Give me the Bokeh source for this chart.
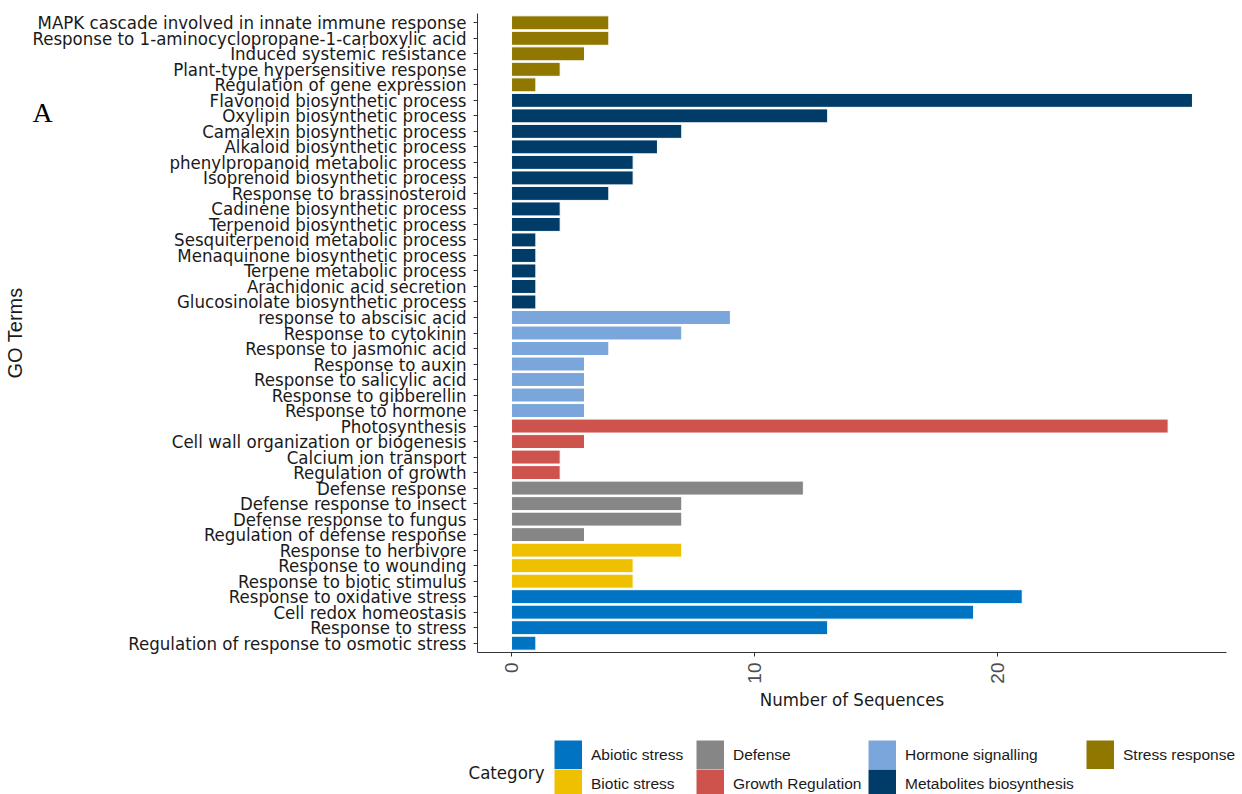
import math
from bokeh.plotting import figure
from bokeh.models import (FactorRange, Range1d, Legend, LegendItem, Label, FixedTicker,
                          GridBox)
from bokeh.embed import file_html
from bokeh.resources import INLINE

# GO terms, top to bottom as in the chart
terms = [
    "MAPK cascade involved in innate immune response",
    "Response to 1-aminocyclopropane-1-carboxylic acid",
    "Induced systemic resistance",
    "Plant-type hypersensitive response",
    "Regulation of gene expression",
    "Flavonoid biosynthetic process",
    "Oxylipin biosynthetic process",
    "Camalexin biosynthetic process",
    "Alkaloid biosynthetic process",
    "phenylpropanoid metabolic process",
    "Isoprenoid biosynthetic process",
    "Response to brassinosteroid",
    "Cadinene biosynthetic process",
    "Terpenoid biosynthetic process",
    "Sesquiterpenoid metabolic process",
    "Menaquinone biosynthetic process",
    "Terpene metabolic process",
    "Arachidonic acid secretion",
    "Glucosinolate biosynthetic process",
    "response to abscisic acid",
    "Response to cytokinin",
    "Response to jasmonic acid",
    "Response to auxin",
    "Response to salicylic acid",
    "Response to gibberellin",
    "Response to hormone",
    "Photosynthesis",
    "Cell wall organization or biogenesis",
    "Calcium ion transport",
    "Regulation of growth",
    "Defense response",
    "Defense response to insect",
    "Defense response to fungus",
    "Regulation of defense response",
    "Response to herbivore",
    "Response to wounding",
    "Response to biotic stimulus",
    "Response to oxidative stress",
    "Cell redox homeostasis",
    "Response to stress",
    "Regulation of response to osmotic stress",
]
counts = [4, 4, 3, 2, 1,
          28, 13, 7, 6, 5, 5, 4, 2, 2, 1, 1, 1, 1, 1,
          9, 7, 4, 3, 3, 3, 3,
          27, 3, 2, 2,
          12, 7, 7, 3,
          7, 5, 5,
          21, 19, 13, 1]
term_category = (["Stress response"] * 5 + ["Metabolites biosynthesis"] * 14 +
                 ["Hormone signalling"] * 7 + ["Growth Regulation"] * 4 +
                 ["Defense"] * 4 + ["Biotic stress"] * 3 + ["Abiotic stress"] * 4)

categories = ["Abiotic stress", "Biotic stress", "Defense", "Growth Regulation",
              "Hormone signalling", "Metabolites biosynthesis", "Stress response"]
category_colors = ["#0073C2", "#EFC000", "#868686", "#CD534C",
                   "#7AA6DC", "#003C67", "#8F7700"]
x_ticks = [0, 10, 20]

COND = "'DejaVu Sans Condensed', sans-serif"
SANS = "'Liberation Sans', Arial, sans-serif"

p = figure(width=1242, height=730,
           y_range=FactorRange(factors=terms[::-1]),
           x_range=Range1d(-1.4, 29.4),
           output_backend="svg", toolbar_location=None,
           min_border_left=477, min_border_right=16, min_border_top=13,
           min_border_bottom=78)
p.y_range.range_padding = 0.1
p.y_range.range_padding_units = "absolute"
p.outline_line_color = None
p.xgrid.visible = False
p.ygrid.visible = False

for cat, col in zip(categories, category_colors):
    ys = [t for t, c in zip(terms, term_category) if c == cat]
    xs = [v for v, c in zip(counts, term_category) if c == cat]
    p.hbar(y=ys, right=xs, left=0, height=0.9, fill_color=col,
           line_color="#ffffff", line_width=1)

# axes
p.yaxis.axis_label = "GO Terms"
p.yaxis.axis_label_text_font = SANS
p.yaxis.axis_label_text_font_style = "normal"
p.yaxis.axis_label_text_font_size = "20px"
p.yaxis.axis_label_text_color = "#1a1a1a"
p.yaxis.axis_label_standoff = 3
p.yaxis.major_label_text_font = COND
p.yaxis.major_label_text_font_size = "18.5px"
p.yaxis.major_label_text_color = "#1a1a1a"
p.yaxis.major_tick_out = 4
p.yaxis.major_tick_in = 0
p.yaxis.major_label_standoff = 7
p.yaxis.axis_line_color = "#333333"
p.yaxis.major_tick_line_color = "#333333"

p.xaxis.ticker = FixedTicker(ticks=x_ticks)
p.xaxis.minor_tick_line_color = None
p.xaxis.major_label_orientation = math.pi / 2
p.xaxis.major_label_text_font = SANS
p.xaxis.major_label_text_font_size = "19px"
p.xaxis.major_label_text_color = "#4D4D4D"
p.xaxis.major_tick_out = 4
p.xaxis.major_tick_in = 0
p.xaxis.major_label_standoff = 6
p.xaxis.axis_label = "Number of Sequences"
p.xaxis.axis_label_text_font = COND
p.xaxis.axis_label_text_font_style = "normal"
p.xaxis.axis_label_text_font_size = "18.5px"
p.xaxis.axis_label_text_color = "#1a1a1a"
p.xaxis.axis_label_standoff = 2
p.xaxis.axis_line_color = "#333333"
p.xaxis.major_tick_line_color = "#333333"

# small transparent overlay holding the panel tag "A"
tag = figure(width=40, height=60, x_range=Range1d(0, 1), y_range=Range1d(0, 1),
             x_axis_type=None, y_axis_type=None,
             output_backend="svg", toolbar_location=None,
             min_border=0, min_border_left=0, min_border_right=0,
             min_border_top=0, min_border_bottom=0)
tag.outline_line_color = None
tag.xgrid.visible = False
tag.ygrid.visible = False
tag.background_fill_alpha = 0
tag.border_fill_alpha = 0
tag.margin = (75, 0, 0, 28)
tag.add_layout(Label(x=4, y=23, x_units="screen", y_units="screen", text="A",
                     text_font="'Liberation Serif', serif", text_font_size="28px",
                     text_baseline="alphabetic", text_color="#000000"))

# legend strip below the chart
lg = figure(width=1242, height=64, x_range=Range1d(0, 1), y_range=Range1d(0, 1),
            x_axis_type=None, y_axis_type=None,
            output_backend="svg", toolbar_location=None,
            min_border=0, min_border_left=0, min_border_right=0,
            min_border_top=0, min_border_bottom=0)
lg.outline_line_color = None
lg.xgrid.visible = False
lg.ygrid.visible = False
for fig in (p, lg, tag):
    try:
        fig.frame_align = False
    except Exception:
        pass

nan = float("nan")
key_renderers = {}
for cat, col in zip(categories, category_colors):
    key_renderers[cat] = lg.line(x=[nan], y=[nan], line_color=col, line_width=29,
                                 line_cap="butt")

legend_columns = [["Abiotic stress", "Biotic stress"],
                  ["Defense", "Growth Regulation"],
                  ["Hormone signalling", "Metabolites biosynthesis"],
                  ["Stress response"]]
legend_x = [554, 696, 868, 1086]
for cats, lx in zip(legend_columns, legend_x):
    leg = Legend(items=[LegendItem(label=c, renderers=[key_renderers[c]]) for c in cats],
                 orientation="vertical", location=(lx, 54 - 29 * len(cats)),
                 glyph_width=28, glyph_height=29, spacing=0,
                 padding=0, margin=0, label_standoff=9,
                 label_text_font=SANS, label_text_font_size="15.5px",
                 label_text_color="#1a1a1a",
                 border_line_color=None, background_fill_alpha=0)
    lg.add_layout(leg, "center")

lg.add_layout(Label(x=468, y=22, x_units="screen", y_units="screen", text="Category",
                    text_font=COND, text_font_size="18.5px",
                    text_baseline="middle", text_color="#1a1a1a"))

layout = GridBox(children=[(p, 0, 0), (tag, 0, 0), (lg, 1, 0)], spacing=0)
open("out.html", "w").write(file_html(layout, INLINE))
